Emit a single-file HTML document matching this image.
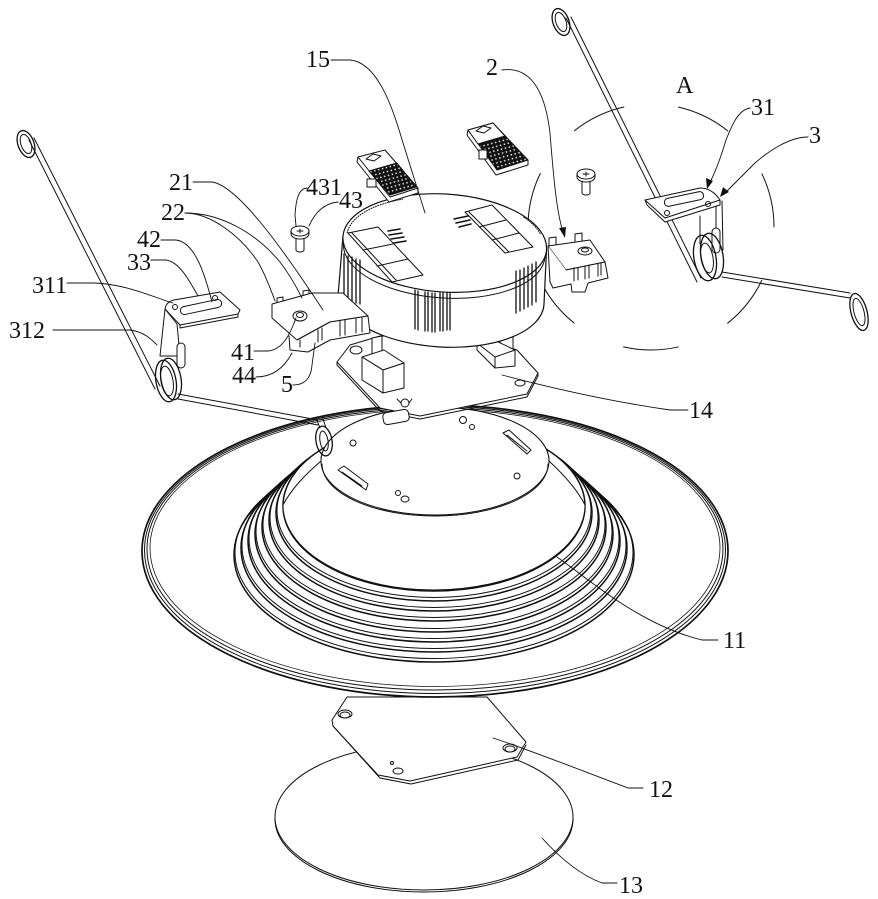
<!DOCTYPE html>
<html><head><meta charset="utf-8"><style>
html,body{margin:0;padding:0;background:#fff;}
svg{display:block;}
text{font-family:"Liberation Serif",serif;font-size:24px;fill:#111;}
</style></head><body>
<svg width="878" height="899" viewBox="0 0 878 899" xmlns="http://www.w3.org/2000/svg">
<defs>
<pattern id="g" width="4" height="4" patternUnits="userSpaceOnUse" patternTransform="rotate(-15)">
<rect width="4" height="4" fill="#111"/><rect x="1.2" y="1.2" width="1.4" height="1.4" fill="#fff"/>
</pattern>
</defs>
<g fill="none" stroke="#111" stroke-width="1" stroke-linejoin="round" stroke-linecap="round">

<!-- Disk 13 -->
<ellipse cx="424" cy="819" rx="149" ry="73" fill="#fff"/>
<ellipse cx="424" cy="817" rx="149" ry="73" fill="#fff"/>
<!-- Plate 12 -->
<path d="M333,726 L380,778 L411,784 L518,760 L526,745" />
<path d="M347,697 L332,720 L333,726 L378,775 L410,781 L517,757 L526,742 L487,697 Z" fill="#fff"/>
<ellipse cx="345" cy="714" rx="7" ry="4"/><ellipse cx="345" cy="715" rx="5" ry="3"/>
<ellipse cx="510" cy="748" rx="7" ry="4"/><ellipse cx="510" cy="749" rx="5" ry="3"/>
<ellipse cx="398" cy="771" rx="5" ry="3"/><circle cx="392" cy="763" r="1.5"/>

<!-- Flange -->
<ellipse cx="435" cy="551" rx="293" ry="146" fill="#fff" stroke-width="1.7"/>
<ellipse cx="435" cy="550" rx="290.5" ry="143.5"/>
<ellipse cx="435" cy="549" rx="288" ry="141"/>
<ellipse cx="435" cy="548" rx="285" ry="138.5" stroke-width="0.8"/>

<!-- Rings -->
<g stroke-width="1.5">
<ellipse cx="434" cy="555" rx="200" ry="107" fill="#fff"/><ellipse cx="434" cy="552.5" rx="199" ry="106" stroke-width="1"/>
<ellipse cx="434" cy="548" rx="193" ry="104" fill="#fff"/><ellipse cx="434" cy="545.5" rx="192" ry="103" stroke-width="1"/>
<ellipse cx="434" cy="541" rx="186" ry="101" fill="#fff"/><ellipse cx="434" cy="538.5" rx="185" ry="100" stroke-width="1"/>
<ellipse cx="434" cy="534" rx="179" ry="98" fill="#fff"/><ellipse cx="434" cy="531.5" rx="178" ry="97" stroke-width="1"/>
<ellipse cx="434" cy="527" rx="172" ry="94" fill="#fff"/><ellipse cx="434" cy="524.5" rx="171" ry="93" stroke-width="1"/>
<ellipse cx="434" cy="520" rx="165" ry="91" fill="#fff"/><ellipse cx="434" cy="517.5" rx="164" ry="90" stroke-width="1"/>
<ellipse cx="434" cy="513" rx="158" ry="88" fill="#fff"/><ellipse cx="434" cy="510.5" rx="157" ry="87" stroke-width="1"/>
<ellipse cx="434" cy="506" rx="151" ry="85" fill="#fff"/>
</g>

<!-- Dome -->
<path d="M283,505 C292,488 306,474 321,461 A114 54 0 0 1 549,461 C563,474 577,489 585,505 A151 85 0 0 1 283,505 Z" fill="#fff"/>
<ellipse cx="435" cy="461" rx="114" ry="54" fill="#fff"/>
<path d="M322,464 A113 52 0 0 0 548,464"/>
<circle cx="353" cy="443" r="3"/><circle cx="463" cy="420" r="3.5"/><circle cx="472" cy="427" r="2.5"/>
<circle cx="517" cy="476" r="3"/><circle cx="398" cy="493" r="2.5"/><ellipse cx="405" cy="499" rx="4" ry="3"/>
<path d="M338,470 L344,466 L368,484 L366,490 Z M342,472 L362,486" fill="#fff"/>
<path d="M503,433 L509,430 L531,450 L527,454 Z M507,435 L527,451" fill="#fff"/>

<!-- Dashed circle A -->
<circle cx="651" cy="227" r="123" stroke-dasharray="55.2 55.2" stroke-dashoffset="55.2"/>

<!-- Plate 14 -->
<path d="M337,362 L337,365 L380,411 L420,419 L527,397 L538,376 L538,373"/>
<path d="M350,345 L337,362 L380,408 L420,416 L527,394 L538,373 L517,350 L470,335 L380,336 Z" fill="#fff"/>
<ellipse cx="356" cy="350" rx="6" ry="4"/>
<ellipse cx="520" cy="383" rx="5" ry="3"/>
<rect x="-13" y="-6" width="26" height="12" rx="4" transform="translate(396,417) rotate(-10)" fill="#fff"/>
<circle cx="405" cy="403" r="4"/><path d="M401,403 L397,399 M409,403 L412,399"/>

<!-- Left block -->
<path d="M372,355 L372,338 L382,336 L382,352" fill="#fff"/>
<path d="M362,357 L384,350 L404,363 L383,370 Z" fill="#fff"/>
<path d="M383,370 L404,363 L404,388 L383,393 Z" fill="#fff"/>
<path d="M362,357 L383,370 L383,393 L362,380 Z" fill="#fff"/>
<!-- Right block -->
<path d="M500,350 L500,336 L513,334 L513,348" fill="#fff"/>
<path d="M477,343 L490,338 L515,350 L515,366 L495,368 L477,350 Z" fill="#fff"/>
<path d="M477,343 L495,357 L515,350 M495,357 L495,368"/>

<!-- Driver box -->
<g transform="rotate(3.7 443 270)">
<path d="M341,243 L340,298 A103 49 0 0 0 546,298 L545,243 Z" fill="#fff" stroke-width="1.2"/>
<ellipse cx="443" cy="243" rx="102" ry="49" fill="#fff" stroke-width="1.2"/>
<path d="M342,250 A101 48 0 0 0 544,250"/>
<path d="M345,239 A98 45 0 0 1 398,202" stroke-dasharray="1 1.5"/>
<path d="M520,212 A98 45 0 0 1 538,228" stroke-dasharray="1 1.5"/>
</g>
<!-- ribs -->
<g stroke-width="1.3">
<path d="M344,254 L344,297 M348,256 L348,300 M352,257 L352,302 M356,259 L356,303 M360,260 L360,304"/>
<path d="M415,290 L415,329 M418,291 L418,330 M425,292 L425,331 M428,292 L428,331 M432,293 L432,332 M435,293 L435,332 M440,293 L440,331 M443,293 L443,331 M447,293 L447,330 M450,293 L450,330"/>
<path d="M516,271 L516,313 M520,270 L520,311 M524,268 L524,309 M528,266 L528,307 M532,264 L532,305 M536,262 L536,302"/>
</g>
<!-- windows -->
<path d="M348,233 L378,227 L423,275 L392,282 Z M363,250 L393,244 M377,266 L408,259 M352,233 L396,280" fill="#fff"/>
<path d="M465,212 L492,205 L533,247 L505,253 Z M479,227 L506,220 M492,240 L519,233 M469,212 L509,252" fill="#fff"/>
<g stroke-width="1.6">
<path d="M388,231 l12,-2 M389,235 l13,-2 M391,239 l13,-2 M394,243 l12,-2"/>
<path d="M454,219 l14,-3 M456,223 l14,-3 M459,227 l12,-3"/>
</g>

<!-- Bracket 2 left -->
<path d="M277,313 L277,298 L283,297 L283,311 M303,303 L303,291 L309,290 L309,300" fill="#fff"/>
<path d="M272,304 L312,293 L343,293 L368,316 L330,322 L297,340 L272,318 Z" fill="#fff"/>
<path d="M297,340 L330,322 L368,316 L370,333 L330,340 L308,352 L290,350 L289,336" fill="#fff"/>
<path d="M300,340 L300,347 M318,330 L318,342 M322,328 L322,340 M340,321 L340,336 M345,320 L345,335 M356,319 L356,333 M362,318 L362,332"/>
<ellipse cx="300" cy="316" rx="7" ry="5" fill="#fff"/><ellipse cx="300" cy="315" rx="3.5" ry="2.5"/>
<!-- Bracket 2 right -->
<path d="M549,248 L549,238 L556,237 L556,246 M575,244 L575,234 L582,233 L582,242" fill="#fff"/>
<path d="M548,246 L590,240 L605,262 L566,270 Z" fill="#fff"/>
<path d="M566,270 L605,262 L608,278 L588,283 L585,292 L572,292 L571,284 L553,288 L550,282 L548,246" fill="#fff"/>
<path d="M574,268 L574,281 M578,268 L578,280 M585,266 L585,279 M589,265 L589,278 M598,264 L598,276 M601,263 L601,275"/>
<ellipse cx="585" cy="251" rx="7" ry="4" fill="#fff"/><ellipse cx="585" cy="250" rx="3.5" ry="2"/>

<!-- Cards -->
<path d="M358,157 L357,162 L389,202 L418,193 L418,188" fill="#fff"/>
<path d="M358,157 L385,150 L418,188 L390,197 Z" fill="#fff"/>
<path d="M369,171 L397,163 L416,187 L390,195 Z" fill="url(#g)"/>
<path d="M366,159 L373,154 L381,156 L374,161 Z"/>
<rect x="367" y="179" width="9" height="8" fill="#fff"/>
<path d="M468,130 L467,135 L496,175 L528,165 L528,160" fill="#fff"/>
<path d="M468,130 L493,123 L528,160 L497,170 Z" fill="url(#g)"/>
<path d="M468,130 L493,123 L505,136 L478,144 Z" fill="#fff"/>
<path d="M476,131 L483,126 L491,128 L484,133 Z"/>
<rect x="479" y="150" width="8" height="9" fill="#fff"/>

<!-- Screws -->
<path d="M296,237 L296,250 A4 2 0 0 0 304,250 L304,237" fill="#fff"/>
<path d="M291,231 L291,234 A9 5 0 0 0 309,234 L309,231" fill="#fff"/>
<ellipse cx="300" cy="231" rx="9" ry="5" fill="#fff"/><path d="M297,231 L303,231 M300,229 L300,233"/>
<path d="M582,180 L582,193 A4 2 0 0 0 590,193 L590,180" fill="#fff"/>
<path d="M577,174 L577,177 A9 5 0 0 0 595,177 L595,174" fill="#fff"/>
<ellipse cx="586" cy="174" rx="9" ry="5" fill="#fff"/><path d="M583,174 L589,174 M586,172 L586,176"/>

<!-- Left spring -->
<path d="M29,140 L155,389 M34,138 L160,386"/>
<ellipse cx="26" cy="144" rx="8" ry="14" transform="rotate(-20 26 144)" stroke-width="1.3"/>
<ellipse cx="26" cy="144" rx="5" ry="10" transform="rotate(-20 26 144)"/>
<path d="M165,309 L160,356 L180,356 L177,324 Z" fill="#fff"/>
<path d="M165,309 Q166,302 174,300 L220,292 L240,310 L238,314 L180,325 Z" fill="#fff"/>
<path d="M180,325 L180,328 L238,317 L238,314"/>
<rect x="-21" y="-4" width="42" height="8" rx="4" transform="translate(201,307) rotate(-12)" fill="#fff"/>
<circle cx="175" cy="307" r="2.5"/><circle cx="215" cy="298" r="2.5"/>
<rect x="177" y="343" width="8" height="25" rx="4" fill="#fff"/>
<path d="M178,394 L318,420 M178,399 L318,425"/>
<ellipse cx="171" cy="379" rx="10" ry="21" transform="rotate(-10 171 379)" stroke-width="1.3"/>
<ellipse cx="166" cy="381" rx="10" ry="21" transform="rotate(-10 166 381)" stroke-width="1.3"/>
<ellipse cx="167" cy="381" rx="6" ry="15" transform="rotate(-10 167 381)"/>
<ellipse cx="324" cy="441" rx="8" ry="15" transform="rotate(-10 324 441)" stroke-width="1.3"/>
<ellipse cx="324" cy="441" rx="4" ry="10" transform="rotate(-10 324 441)"/>
<path d="M316,418 L320,428 M322,416 L326,428"/>

<!-- Right spring -->
<path d="M566,18 L697,282 M571,17 L701,278"/>
<ellipse cx="561" cy="22" rx="8" ry="14" transform="rotate(-20 561 22)" stroke-width="1.3"/>
<ellipse cx="561" cy="22" rx="5" ry="10" transform="rotate(-20 561 22)"/>
<path d="M700,216 L700,244 M716,204 L716,248 M722,201 L723,250"/>
<path d="M645,200 L700,188 Q712,188 720,200 L720,205 L665,222 L647,205 Z" fill="#fff"/>
<path d="M645,200 L665,218 L720,200"/>
<rect x="-20" y="-4" width="40" height="8" rx="4" transform="translate(684,199) rotate(-12)" fill="#fff"/>
<circle cx="667" cy="213" r="2.5"/><circle cx="708" cy="204" r="2.5"/>
<rect x="712" y="228" width="8" height="25" rx="4" fill="#fff"/>
<path d="M722,272 L850,293 M722,277 L850,298"/>
<ellipse cx="712" cy="256" rx="11" ry="23" transform="rotate(-10 712 256)" stroke-width="1.3"/>
<ellipse cx="705" cy="258" rx="11" ry="23" transform="rotate(-10 705 258)" stroke-width="1.3"/>
<ellipse cx="707" cy="258" rx="6" ry="15" transform="rotate(-10 707 258)"/>
<ellipse cx="859" cy="312" rx="8" ry="19" transform="rotate(-15 859 312)" stroke-width="1.3"/>
<ellipse cx="859" cy="312" rx="5" ry="14" transform="rotate(-15 859 312)"/>

<!-- Leaders -->
<g stroke-width="0.9">
<path d="M331,60 L350,60 C375,62 390,100 400,133 S418,190 425,213"/>
<path d="M502,70 C530,66 545,90 550,133 C553,170 556,210 563,232"/>
<path d="M750,108 C738,110 732,125 726,140 C720,160 714,175 709,184"/>
<path d="M808,137 C790,137 770,150 755,163 C742,176 732,186 724,194"/>
<path d="M193,182 L212,182 C240,186 290,260 323,310"/>
<path d="M185,213 C210,213 240,235 258,262 C266,276 271,290 275,301"/>
<path d="M185,213 C220,213 255,232 280,262 C290,275 297,288 302,298"/>
<path d="M307,188 C298,189 296,200 295,215 L296,226"/>
<path d="M338,202 C325,203 315,212 309,226"/>
<path d="M161,240 L176,240 C195,242 205,275 212,302"/>
<path d="M151,260 L166,260 C180,262 190,282 198,296"/>
<path d="M67,283 L95,283 C130,285 155,298 173,303"/>
<path d="M53,330 L130,330 C145,332 152,340 157,345"/>
<path d="M254,351 L268,351 C282,350 290,335 296,318"/>
<path d="M256,377 C270,377 283,370 292,353"/>
<path d="M293,385 C305,385 311,378 312,365 L315,343"/>
<path d="M688,410 L670,410 C600,400 540,385 502,375"/>
<path d="M718,640 L702,640 C640,625 590,580 557,557"/>
<path d="M643,788 L628,788 C580,770 530,750 493,738"/>
<path d="M617,883 L602,883 C580,875 560,858 542,838"/>
</g>
</g>
<!-- arrowheads -->
<g fill="#111">
<path d="M565,238 L559,228 L566,227 Z"/>
<path d="M707,189 L706,178 L713,181 Z"/>
<path d="M720,197 L723,187 L729,192 Z"/>
</g>

<!-- Labels -->
<text x="306" y="67">15</text>
<text x="486" y="75">2</text>
<text x="676" y="93">A</text>
<text x="751" y="115">31</text>
<text x="809" y="143">3</text>
<text x="169" y="190">21</text>
<text x="161" y="220">22</text>
<text x="306" y="195">431</text>
<text x="339" y="208">43</text>
<text x="137" y="247">42</text>
<text x="127" y="270">33</text>
<text x="32" y="293">311</text>
<text x="9" y="338">312</text>
<text x="231" y="360">41</text>
<text x="232" y="383">44</text>
<text x="281" y="392">5</text>
<text x="689" y="418">14</text>
<text x="723" y="648">11</text>
<text x="649" y="797">12</text>
<text x="619" y="893">13</text>
</svg>
</body></html>
